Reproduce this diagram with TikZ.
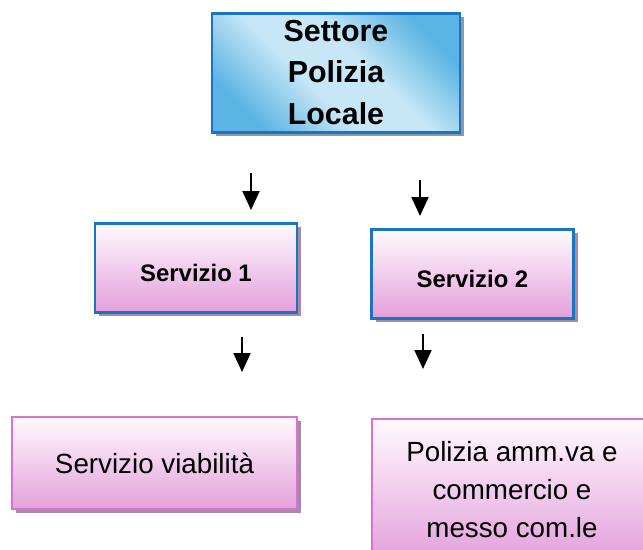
\documentclass[tikz,border=0pt]{standalone}
\usepackage{fontspec}
\setmainfont{Liberation Sans}
\usetikzlibrary{arrows.meta,shadows}
\definecolor{skylight}{HTML}{C8E7F6}
\definecolor{skydark}{HTML}{5BB4E3}
\definecolor{frameblue}{HTML}{1A74C4}
\definecolor{pinktop}{HTML}{FFFAFE}
\definecolor{pinkbot}{HTML}{E3A0DB}
\definecolor{orchidline}{HTML}{D873D2}
\definecolor{shadegray}{HTML}{8B9AA4}
\definecolor{shadepink}{HTML}{A88AA6}
\pgfdeclarehorizontalshading{skyband}{100bp}{color(0bp)=(skydark); color(25bp)=(skydark); color(43bp)=(skylight); color(57bp)=(skylight); color(75bp)=(skydark); color(100bp)=(skydark)}
\def\px{0.02cm}
\tikzset{
  boxbase/.style={inner sep=0pt, align=center, drop shadow={shadow xshift=4*\px, shadow yshift=-4*\px, fill=#1, opacity=1}},
  sectorbox/.style={boxbase=shadegray, draw=frameblue, line width=1.7pt, shading=skyband, shading angle=45,
    font=\fontsize{17.3}{23.6}\selectfont\bfseries},
  servicebox/.style={boxbase=shadepink, draw=frameblue, line width=1.7pt, top color=pinktop, bottom color=pinkbot,
    minimum width=202*\px, minimum height=89*\px, text height=15.4pt, text depth=0pt,
    font=\fontsize{13.6}{16}\selectfont\bfseries},
  officebox/.style={boxbase=shadepink, draw=orchidline, line width=1.2pt, top color=pinktop, bottom color=pinkbot,
    font=\fontsize{15.8}{21.6}\selectfont},
  downarrow/.style={line width=1.1pt, -{Triangle[width=17*\px, length=19*\px]}}
}

\begin{document}
\begin{tikzpicture}[x=\px, y=-\px]
    \useasboundingbox (0,0) rectangle (643,549);
    % boxes
    \node[sectorbox, minimum width=248*\px, minimum height=119*\px] (sector) at (336,72.5) {Settore\\Polizia\\Locale};
    \node[servicebox] (serv1) at (196,267.5) {Servizio 1};
    \node[servicebox] (serv2) at (472.5,273.5) {Servizio 2};
    \node[officebox, minimum width=285*\px, minimum height=92*\px] (viab) at (154.5,463) {Servizio viabilità};
    \node[officebox, minimum width=280*\px, minimum height=142*\px] (comm) at (512,490) {Polizia amm.va e\\commercio e\\messo com.le};
    % arrows
    \coordinate (a1s) at (251,173); \coordinate (a1e) at (251,210);
    \coordinate (a2s) at (420,180); \coordinate (a2e) at (420,216);
    \coordinate (a3s) at (242,337); \coordinate (a3e) at (242,372);
    \coordinate (a4s) at (423,334); \coordinate (a4e) at (423,369);
    \draw[downarrow] (a1s) -- (a1e);
    \draw[downarrow] (a2s) -- (a2e);
    \draw[downarrow] (a3s) -- (a3e);
    \draw[downarrow] (a4s) -- (a4e);
\end{tikzpicture}
\end{document}
